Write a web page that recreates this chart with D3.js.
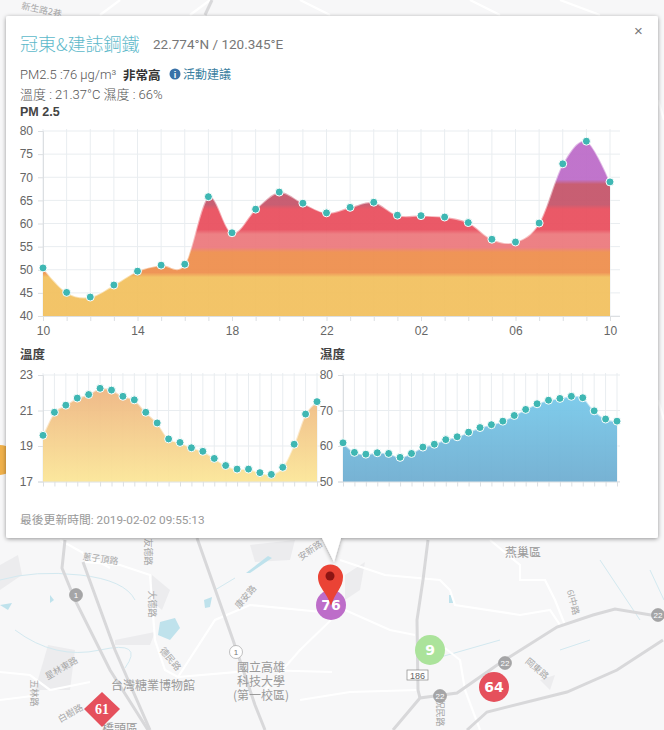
<!DOCTYPE html>
<html>
<head>
<meta charset="utf-8">
<script src="https://cdn.jsdelivr.net/npm/d3@7"></script>
<style>
  body { margin: 0; background: #f7f7f8; }
  svg { display: block; }
  text { font-family: "Liberation Sans", "Noto Sans CJK TC", sans-serif; }
  .grid line { stroke: #e9edf0; stroke-width: 1; }
  .axis line, .axis path { stroke: #dcdfe2; }
  .axis text { fill: #666; font-size: 12px; }
  .maplabel { fill: #a8a8a8; font-size: 9px; font-family: "Noto Sans CJK TC", sans-serif; }
  .bigmaplabel { fill: #9a9a9a; font-size: 12px; font-family: "Noto Sans CJK TC", sans-serif; }
</style>
</head>
<body>
<svg id="page" width="664" height="730"></svg>
<script>
  // hours since 10:00, one reading per hour
  var hours = d3.range(0, 25);
  var pmTickLabels = ["10", "14", "18", "22", "02", "06", "10"];
  var pmTicks = [40, 45, 50, 55, 60, 65, 70, 75, 80];
  var tempTicks = [17, 19, 21, 23];
  var humTicks = [50, 60, 70, 80];

  var pmValues = [50.4, 45.1, 44.1, 46.7, 49.7, 51, 51.2, 65.8, 58, 63.1, 66.8, 64.4, 62.3,
    63.5, 64.6, 61.8, 61.7, 61.4, 60.2, 56.6, 56, 60.1, 72.9, 77.8, 69];
  var tempValues = [19.6, 20.9, 21.3, 21.7, 21.9, 22.25, 22.15, 21.8, 21.6, 20.9, 20.3, 19.4, 19.2,
    18.9, 18.7, 18.3, 17.9, 17.7, 17.7, 17.5, 17.4, 17.8, 19.1, 20.8, 21.5];
  var humValues = [60.9, 58.2, 57.7, 58.1, 57.9, 56.8, 57.9, 59.7, 60.5, 61.8, 62.6, 63.9, 65.2,
    66, 67, 68.6, 70.3, 71.9, 72.9, 73.4, 74, 73.6, 69.9, 67.6, 67];

  // PM2.5 colour bands, value where each band ends
  var pmBandEnds = [48.9, 54.3, 58.2, 63.6, 69, 80];
  var pmBandColors = ["#f2c160", "#ee8f4e", "#ec7a7e", "#e9505f", "#c5566b", "#bd6dc9"];

  var svg = d3.select("#page");
  var defs = svg.append("defs");

  // ---- map behind the popup ----
  var mapWater = ["M0 580 Q35 570 80 575 T135 600", "M15 630 Q55 660 100 650 T125 668",
    "M215 590 L235 578", "M430 660 L500 640", "M560 650 L590 640", "M600 560 L640 620", "M650 570 L664 600"];
  var mapPools = ["M160 622 L175 618 L180 628 L170 640 L158 635 Z", "M204 600 L212 597 L210 607 L205 608 Z",
    "M246 573 L268 556 L272 558 L250 573 Z", "M0 605 L12 603 L8 610 Z", "M50 595 L54 600 L50 603 Z",
    "M449 595 L453 595 L453 603 L449 603 Z"];
  var mapRoads = ["M0 672 L30 675 L50 690 L90 682", "M178 677 L260 670 L332 672",
    "M178 677 L215 620 L250 605 L332 613", "M85 562 L120 565 L150 575 L155 640 L165 670 L178 677",
    "M60 540 L110 568", "M0 700 L40 695", "M300 700 L350 692 L418 690",
    "M345 610 L390 630 L415 635", "M445 648 L460 660 L465 690 L480 730",
    "M340 560 L385 575 L440 580 L450 590 L455 605 L520 615 L550 610 L560 625",
    "M490 540 L520 565 L520 580 L545 580 L555 600 L565 625",
    "M331 620 L300 650 L265 690", "M210 0 L190 15", "M120 0 L100 15", "M300 0 L330 15",
    "M470 0 L500 15", "M560 0 L600 15", "M658 100 L664 120", "M658 400 L664 420"];
  var mapHighways = ["M65 540 L62 568 L75 600 L110 670 L148 730", "M83 562 L115 650 L150 730",
    "M197 538 L233 640 L255 705 L265 730", "M428 540 L423 580 L417 620 L418 690 L420 698",
    "M393 730 L420 698 L457 693 L500 663 L557 627 L593 615 L615 609 L663 617",
    "M467 730 L487 712 L567 692 L617 670 L663 640", "M212 0 L205 15"];
  var mapBlocks = ["M0 565 L18 555 L22 575 L0 590 Z", "M48 645 L75 650 L70 690 L35 690 Z",
    "M152 575 L170 590 L162 610 L150 600 Z", "M115 640 L155 632 L150 645 L115 645 Z",
    "M250 545 L295 540 L290 560 L255 562 Z", "M345 575 L365 562 L360 590 L345 600 Z",
    "M540 680 L555 675 L550 690 Z"];
  var mapLabels = [["新生路2巷", 41, 13, 12], ["蔥子頂路", 100, 562, 8], ["大德路", 149, 604, 90],
    ["友德路", 145, 552, 90], ["安新路", 312, 553, -35], ["康安路", 248, 599, -50],
    ["德民路", 168, 661, 50], ["五林路", 31, 693, 90], ["星林東路", 63, 671, -30],
    ["白樹路", 72, 716, -30], ["祝民路", 437, 713, 90],
    ["岡東路", 535, 671, 40], ["6l中路", 570, 603, 75]];
  var mapBigLabels = [["燕巢區", 505, 557], ["台灣糖業博物館", 153, 690], ["國立高雄", 261, 672],
    ["科技大學", 261, 686], ["(第一校區)", 261, 700], ["橋頭區", 120, 733]];

  svg.append("g").selectAll("path").data(mapBlocks).enter().append("path")
    .attr("d", function(d) { return d; }).attr("fill", "#ececee");
  svg.append("g").selectAll("path").data(mapPools).enter().append("path")
    .attr("d", function(d) { return d; }).attr("fill", "#bfe2ec");
  svg.append("g").selectAll("path").data(mapWater).enter().append("path")
    .attr("d", function(d) { return d; }).attr("fill", "none")
    .attr("stroke", "#d3e9f0").attr("stroke-width", 1);
  svg.append("g").selectAll("path").data(mapRoads).enter().append("path")
    .attr("d", function(d) { return d; }).attr("fill", "none")
    .attr("stroke", "#ffffff").attr("stroke-width", 2.2);
  svg.append("g").selectAll("path").data(mapHighways).enter().append("path")
    .attr("d", function(d) { return d; }).attr("fill", "none")
    .attr("stroke", "#d8d8da").attr("stroke-width", 3);
  svg.append("g").selectAll("text").data(mapLabels).enter().append("text")
    .attr("class", "maplabel").attr("text-anchor", "middle")
    .attr("transform", function(d) { return "translate(" + d[1] + "," + d[2] + ") rotate(" + d[3] + ")"; })
    .text(function(d) { return d[0]; });
  svg.append("g").selectAll("text").data(mapBigLabels).enter().append("text")
    .attr("class", "bigmaplabel")
    .attr("x", function(d) { return d[1]; }).attr("y", function(d) { return d[2]; })
    .attr("text-anchor", function(d) { return d[0] == "燕巢區" ? "start" : "middle"; })
    .text(function(d) { return d[0]; });

  // highway shields
  var shields = [["1", 76, 595, "#a5a5a7", "#fff"], ["1", 236, 652, "#fff", "#777"],
    ["22", 505, 663, "#a5a5a7", "#fff"], ["22", 440, 696, "#a5a5a7", "#fff"], ["22", 658, 615, "#a5a5a7", "#fff"]];
  var shield = svg.append("g").selectAll("g").data(shields).enter().append("g")
    .attr("transform", function(d) { return "translate(" + d[1] + "," + d[2] + ")"; });
  shield.append("circle").attr("r", 6.5)
    .attr("fill", function(d) { return d[3]; }).attr("stroke", "#999").attr("stroke-width", 0.6);
  shield.append("text").attr("text-anchor", "middle").attr("y", 3).attr("font-size", 8)
    .attr("fill", function(d) { return d[4]; }).text(function(d) { return d[0]; });
  svg.append("rect").attr("x", 407).attr("y", 670).attr("width", 21).attr("height", 10)
    .attr("fill", "#fff").attr("stroke", "#888").attr("stroke-width", 0.7);
  svg.append("text").attr("x", 417.5).attr("y", 678.5).attr("text-anchor", "middle")
    .attr("font-size", 9).attr("fill", "#666").text("186");

  // station markers on the map
  var stations = [["76", 331, 605, "#bd6dc9"], ["9", 430, 650, "#abe39b"], ["64", 494, 687, "#e5505c"], ["", 0, 460, "#efb04a"]];
  svg.append("g").selectAll("circle").data(stations).enter().append("circle")
    .attr("cx", function(d) { return d[1]; }).attr("cy", function(d) { return d[2]; })
    .attr("r", 15).attr("fill", function(d) { return d[3]; });
  svg.append("g").selectAll("text").data(stations).enter().append("text")
    .attr("x", function(d) { return d[1]; }).attr("y", function(d) { return d[2] + 5; })
    .attr("text-anchor", "middle").attr("fill", "#fff").attr("font-weight", "bold")
    .attr("font-size", 14).style("font-family", "'DejaVu Sans', sans-serif")
    .text(function(d) { return d[0]; });
  svg.append("path").attr("d", "M102 692 L120 709 L102 727 L84 709 Z").attr("fill", "#e5505c");
  svg.append("text").attr("x", 102).attr("y", 714).attr("text-anchor", "middle").attr("fill", "#fff")
    .attr("font-weight", "bold").attr("font-size", 14).style("font-family", "'Liberation Serif', serif").text("61");
  svg.append("path")
    .attr("d", "M331 606 C327 592 318 588 318 577 A12.5 12.5 0 0 1 343 577 C343 588 335 592 331 606 Z")
    .attr("fill", "#ea4335");
  svg.append("circle").attr("cx", 330).attr("cy", 576).attr("r", 4.5).attr("fill", "#8c1413");

  // ---- popup ----
  var shadow = defs.append("filter").attr("id", "shadow")
    .attr("x", "-5%").attr("y", "-5%").attr("width", "110%").attr("height", "110%");
  shadow.append("feDropShadow").attr("dx", 0).attr("dy", 1).attr("stdDeviation", 2)
    .attr("flood-color", "#000").attr("flood-opacity", 0.4);

  var popup = svg.append("g").attr("filter", "url(#shadow)");
  popup.append("path").attr("d", "M322 538 L334 562 L341 538 Z").attr("fill", "#fff");
  popup.append("rect").attr("x", 6).attr("y", 16).attr("width", 652).attr("height", 522)
    .attr("rx", 2).attr("fill", "#fff");

  svg.append("text").attr("x", 634).attr("y", 36).attr("font-size", 15).attr("fill", "#777").text("×");
  svg.append("text").attr("x", 20).attr("y", 51).attr("font-size", 18).attr("font-weight", 300)
    .attr("fill", "#5db9ca").style("font-family", "'Noto Sans CJK TC'").text("冠東&建誌鋼鐵");
  svg.append("text").attr("x", 153).attr("y", 49).attr("font-size", 13.5).attr("fill", "#777")
    .style("font-family", "Roboto").text("22.774°N / 120.345°E");
  svg.append("text").attr("x", 20).attr("y", 79).attr("font-size", 13).attr("font-weight", 300).attr("fill", "#555")
    .style("font-family", "Roboto").text("PM2.5 :76 μg/m³");
  svg.append("text").attr("x", 123).attr("y", 80).attr("font-size", 12.5).attr("font-weight", "bold")
    .attr("fill", "#333").style("font-family", "'Noto Sans CJK TC'").text("非常高");
  svg.append("circle").attr("cx", 175).attr("cy", 74).attr("r", 5.5).attr("fill", "#3a72a8");
  svg.append("text").attr("x", 175).attr("y", 77.5).attr("text-anchor", "middle").attr("font-size", 9)
    .attr("font-weight", "bold").attr("fill", "#fff").text("i");
  svg.append("text").attr("x", 183).attr("y", 79).attr("font-size", 12).attr("fill", "#3b7f9f")
    .style("font-family", "'Noto Sans CJK TC'").text("活動建議");
  svg.append("text").attr("x", 20).attr("y", 99).attr("font-size", 13).attr("font-weight", 300).attr("fill", "#555")
    .style("font-family", "Roboto, 'Noto Sans CJK TC'").text("溫度 : 21.37°C 濕度 : 66%");
  svg.append("text").attr("x", 20).attr("y", 116).attr("font-size", 12.5).attr("font-weight", "bold")
    .attr("fill", "#444").text("PM 2.5");
  svg.append("text").attr("x", 20).attr("y", 359).attr("font-size", 12.5).attr("font-weight", "bold")
    .attr("fill", "#444").text("溫度");
  svg.append("text").attr("x", 320).attr("y", 359).attr("font-size", 12.5).attr("font-weight", "bold")
    .attr("fill", "#444").text("濕度");
  svg.append("text").attr("x", 20).attr("y", 524).attr("font-size", 11.8).attr("fill", "#999")
    .style("font-family", "Roboto, 'Noto Sans CJK TC'").text("最後更新時間: 2019-02-02 09:55:13");

  // one chart: grid, axes, area, line and dots
  function drawChart(opts) {
    var x = d3.scaleLinear().domain([0, 24]).range([opts.left, opts.right]);
    var y = d3.scaleLinear().domain(opts.domain).range([opts.bottom, opts.top]);
    var g = svg.append("g");

    g.append("g").attr("class", "grid").selectAll("line").data(hours).enter().append("line")
      .attr("x1", function(d) { return x(d); }).attr("x2", function(d) { return x(d); })
      .attr("y1", opts.top - 2).attr("y2", opts.bottom);
    g.append("g").attr("class", "grid").selectAll("line").data(opts.yTicks).enter().append("line")
      .attr("x1", opts.left).attr("x2", opts.right + opts.over)
      .attr("y1", function(d) { return y(d); }).attr("y2", function(d) { return y(d); });

    g.append("g").attr("class", "axis")
      .attr("transform", "translate(" + opts.left + ",0)")
      .call(d3.axisLeft(y).tickValues(opts.yTicks).tickFormat(d3.format("d")).tickSize(5).tickPadding(5));

    var xAxis = d3.axisBottom(x).tickValues(hours).tickSize(5).tickPadding(5)
      .tickSizeOuter(0)
      .tickFormat(function(d) { return opts.xLabels && d % 4 == 0 ? opts.xLabels[d / 4] : ""; });
    g.append("g").attr("class", "axis")
      .attr("transform", "translate(0," + opts.bottom + ")")
      .call(xAxis);
    g.select(".axis:last-child path").attr("d", "M" + opts.left + ",0.5H" + (opts.right + opts.over));

    var curve = d3.curveCardinal.tension(0);
    var area = d3.area().curve(curve)
      .x(function(d, i) { return x(i); })
      .y0(opts.bottom).y1(function(d) { return y(d); });
    var line = d3.line().curve(curve)
      .x(function(d, i) { return x(i); })
      .y(function(d) { return y(d); });

    g.append("path").datum(opts.values).attr("d", area).attr("fill", opts.fill(y)).attr("fill-opacity", 0.95);
    g.append("path").datum(opts.values).attr("d", line).attr("fill", "none")
      .attr("stroke", "#fff").attr("stroke-opacity", 0.5).attr("stroke-width", 2);

    g.append("g").selectAll("circle").data(opts.values).enter().append("circle")
      .attr("cx", function(d, i) { return x(i); })
      .attr("cy", function(d) { return y(d); })
      .attr("r", 4).attr("fill", "#3fb7b3").attr("stroke", "#fff").attr("stroke-width", 1);
  }

  function pmFill(y) {
    var grad = defs.append("linearGradient").attr("id", "pmGrad")
      .attr("gradientUnits", "userSpaceOnUse")
      .attr("x1", 0).attr("x2", 0).attr("y1", y(40)).attr("y2", y(80));
    pmBandEnds.forEach(function(end, i) {
      var start = i == 0 ? 40 : pmBandEnds[i - 1];
      grad.append("stop").attr("offset", (start + (i == 0 ? 0 : 0.5) - 40) / 40).attr("stop-color", pmBandColors[i]);
      grad.append("stop").attr("offset", (end - 0.5 - 40) / 40).attr("stop-color", pmBandColors[i]);
    });
    return "url(#pmGrad)";
  }

  function simpleFill(id, topValue, bottomValue, topColor, bottomColor) {
    return function(y) {
      var grad = defs.append("linearGradient").attr("id", id)
        .attr("gradientUnits", "userSpaceOnUse")
        .attr("x1", 0).attr("x2", 0).attr("y1", y(topValue)).attr("y2", y(bottomValue));
      grad.append("stop").attr("offset", 0).attr("stop-color", topColor);
      grad.append("stop").attr("offset", 1).attr("stop-color", bottomColor);
      return "url(#" + id + ")";
    };
  }

  drawChart({ left: 43, right: 610, top: 131, bottom: 316, over: 10, domain: [40, 80],
    yTicks: pmTicks, xLabels: pmTickLabels, values: pmValues, fill: pmFill });
  drawChart({ left: 43, right: 317, top: 375, bottom: 481.5, over: 3, domain: [17, 23],
    yTicks: tempTicks, values: tempValues,
    fill: simpleFill("tempGrad", 22.3, 17, "#eeb582", "#fbe698") });
  drawChart({ left: 343, right: 617, top: 375, bottom: 481.5, over: 3, domain: [50, 80],
    yTicks: humTicks, values: humValues,
    fill: simpleFill("humGrad", 74, 50, "#78c9ea", "#70aed1") });
</script>
</body>
</html>
